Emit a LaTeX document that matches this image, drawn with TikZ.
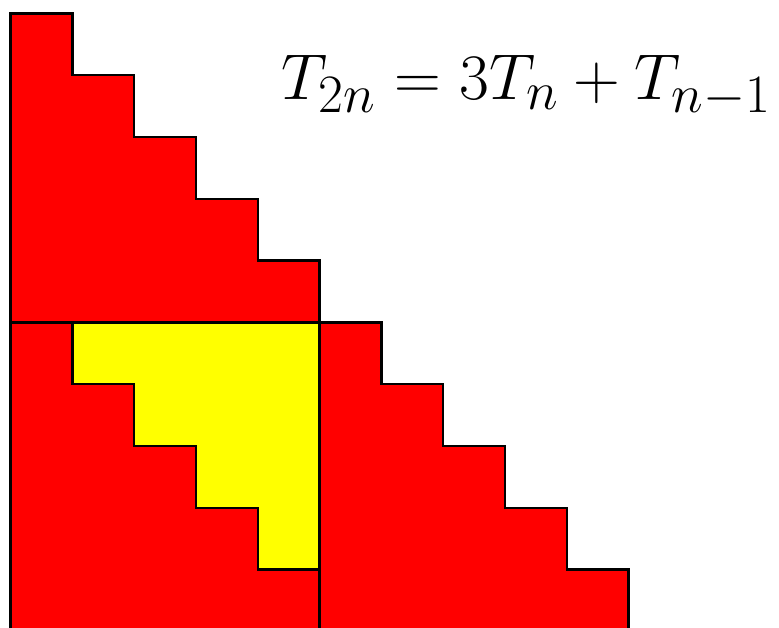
\documentclass[tikz,border=0pt]{standalone}
\usepackage{amsmath}
\usetikzlibrary{positioning}
\definecolor{stairRed}{RGB}{255,0,0}
\definecolor{stairYellow}{RGB}{255,255,0}

\begin{document}
\begin{tikzpicture}[
        stair/.style={draw=black, line width=1.1pt, line join=miter, fill=stairRed},
        inner/.style={stair, fill=stairYellow},
        eqlabel/.style={inner sep=0pt, anchor=base west, font=\Huge, scale=1.2, transform shape}
      ]
      \useasboundingbox (-0.170,0.057) rectangle (12.435,10.218);
      % top triangle T_n
      \draw[stair] (0,5) -- (0,10) -- (1,10) -- (1,9) -- (2,9) -- (2,8) -- (3,8)
        -- (3,7) -- (4,7) -- (4,6) -- (5,6) -- (5,5) -- cycle;
      % bottom left square with T_{n-1} inside
      \draw[stair] (0,0) rectangle (5,5);
      \draw[inner] (1,5) -- (5,5) -- (5,1) -- (4,1) -- (4,2) -- (3,2) -- (3,3)
        -- (2,3) -- (2,4) -- (1,4) -- cycle;
      % bottom right triangle T_n
      \draw[stair] (5,0) -- (5,5) -- (6,5) -- (6,4) -- (7,4) -- (7,3) -- (8,3)
        -- (8,2) -- (9,2) -- (9,1) -- (10,1) -- (10,0) -- cycle;

      \node[eqlabel] (eq) at (4.38,8.60) {$T_{2n} = 3T_n + T_{n-1}$};
    \end{tikzpicture}
\end{document}
